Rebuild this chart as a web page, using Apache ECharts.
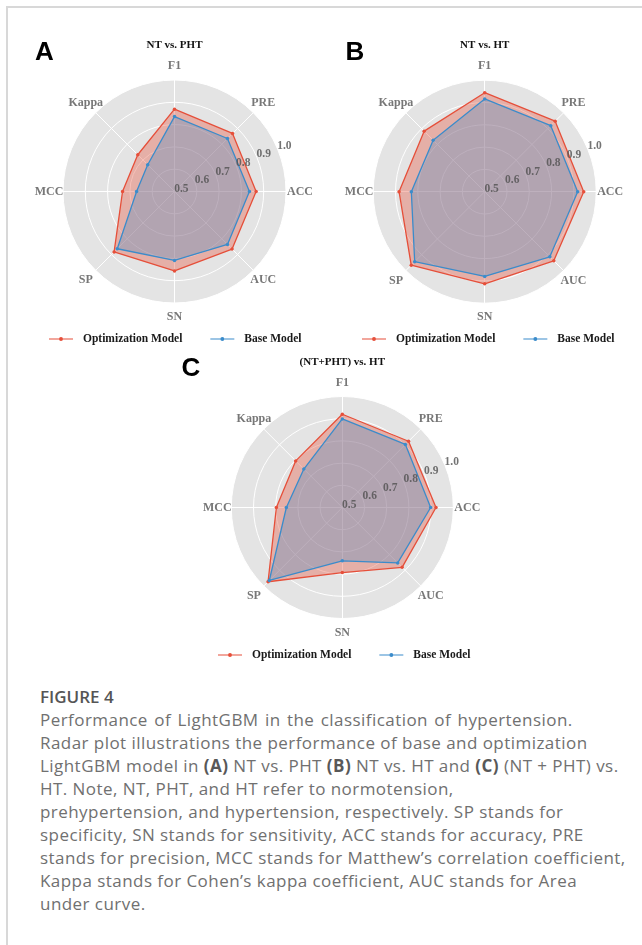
<!DOCTYPE html>
<html>
<head>
<meta charset="utf-8">
<script src="https://cdn.jsdelivr.net/npm/echarts@6/dist/echarts.min.js"></script>
<style>
  html, body { margin: 0; padding: 0; background: #fff; }
  #page { position: relative; width: 642px; height: 945px; overflow: hidden; }
  #frame { position: absolute; left: 6px; top: 6px; right: -4px; bottom: -4px;
           border-top: 2px solid #d8d8d8; border-left: 2px solid #d8d8d8; }
  #chart { position: absolute; left: 0; top: 0; width: 642px; height: 680px; }
  #caption { position: absolute; left: 40px; top: 686px; font-family: "Open Sans", sans-serif;
             color: #707070; white-space: nowrap; }
  #caption .head { font-size: 17px; font-weight: 600; color: #555; line-height: 22px; height: 22px; }
  #caption .line { font-size: 17px; letter-spacing: 0.45px; line-height: 23px; height: 23px; }
  #caption .wide { word-spacing: 1.5px; }
  #caption b { font-weight: 700; color: #585858; }
</style>
</head>
<body>
<div id="page">
  <div id="frame"></div>
  <div id="chart"></div>
  <div id="caption">
    <div class="head">FIGURE 4</div>
    <div class="line wide">Performance of LightGBM in the classification of hypertension.</div>
    <div class="line">Radar plot illustrations the performance of base and optimization</div>
    <div class="line">LightGBM model in <b>(A)</b> NT vs. PHT <b>(B)</b> NT vs. HT and <b>(C)</b> (NT + PHT) vs.</div>
    <div class="line">HT. Note, NT, PHT, and HT refer to normotension,</div>
    <div class="line">prehypertension, and hypertension, respectively. SP stands for</div>
    <div class="line">specificity, SN stands for sensitivity, ACC stands for accuracy, PRE</div>
    <div class="line">stands for precision, MCC stands for Matthew’s correlation coefficient,</div>
    <div class="line">Kappa stands for Cohen’s kappa coefficient, AUC stands for Area</div>
    <div class="line">under curve.</div>
  </div>
</div>
<script>
// Metrics, listed clockwise from the top of each radar
const categories = ['F1', 'PRE', 'ACC', 'AUC', 'SN', 'SP', 'MCC', 'Kappa'];
const seriesNames = ['Optimization Model', 'Base Model'];
const radialTicks = [0.5, 0.6, 0.7, 0.8, 0.9, 1.0];

// (A) NT vs. PHT
const optA  = [0.869, 0.868, 0.866, 0.865, 0.856, 0.883, 0.733, 0.733];
const baseA = [0.836, 0.836, 0.836, 0.836, 0.809, 0.863, 0.670, 0.670];
// (B) NT vs. HT
const optB  = [0.944, 0.947, 0.944, 0.938, 0.913, 0.966, 0.884, 0.884];
const baseB = [0.916, 0.919, 0.917, 0.913, 0.880, 0.944, 0.829, 0.827];
// (C) (NT+PHT) vs. HT
const optC  = [0.920, 0.922, 0.922, 0.881, 0.793, 0.973, 0.797, 0.797];
const baseC = [0.899, 0.902, 0.898, 0.853, 0.740, 0.965, 0.752, 0.745];

const panelTitles  = ['NT vs. PHT', 'NT vs. HT', '(NT+PHT) vs. HT'];
const panelLetters = ['A', 'B', 'C'];

const RED = '#e64f3a';
const BLUE = '#3b8ccb';
const SERIF = '"Liberation Serif", "Times New Roman", serif';

// layout of the three panels
const panels = [
  { center: [174.5, 191.5], radius: 111.5, opt: optA, base: baseA, titleY: 45, letter: [44.5, 53], legend: [49, 333] },
  { center: [484.7, 191.7], radius: 111.5, opt: optB, base: baseB, titleY: 45, letter: [355, 53], legend: [362, 333] },
  { center: [342.3, 507.5], radius: 111, opt: optC, base: baseC, titleY: 362, letter: [191, 369], legend: [218, 649] }
];

// ECharts radar runs counter-clockwise, so feed the metrics in reverse (F1 stays on top)
const ccwOrder = [0, 7, 6, 5, 4, 3, 2, 1];
const reorder = arr => ccwOrder.map(i => arr[i]);

// compass angle of each metric's spoke (degrees, counter-clockwise from east)
const spokeAngle = i => 90 - i * 360 / categories.length;
const NAME_GAP = 14;

const legendIcon = 'path://M0,1.4L24,1.4L24,2.6L0,2.6Z M10,2A2,2 0 1,1 14,2A2,2 0 1,1 10,2Z';

const radar = [], polar = [], angleAxis = [], radiusAxis = [], series = [], legend = [], graphics = [];

panels.forEach((p, k) => {
  radar.push({
    center: p.center,
    radius: p.radius,
    shape: 'circle',
    splitNumber: 5,
    startAngle: 90,
    indicator: reorder(categories).map(name => ({ name: name, min: 0.5, max: 1.0 })),
    axisName: { show: false },
    splitArea: { show: true, areaStyle: { color: ['#e4e4e4'] } },
    splitLine: { lineStyle: { color: '#ffffff', width: 1 } },
    axisLine: { lineStyle: { color: '#ffffff', width: 1 } },
    axisTick: { show: false },
    axisLabel: { show: false }
  });

  // a polar frame sharing the radar's scale, used to place the metric names and radial tick labels
  polar.push({ center: p.center, radius: p.radius });
  angleAxis.push({
    polarIndex: k, type: 'value', min: 0, max: 360, startAngle: 0, clockwise: false,
    axisLine: { show: false }, axisTick: { show: false }, axisLabel: { show: false }, splitLine: { show: false }
  });
  radiusAxis.push({
    polarIndex: k, type: 'value', min: radialTicks[0], max: radialTicks[radialTicks.length - 1],
    axisLine: { show: false }, axisTick: { show: false }, axisLabel: { show: false }, splitLine: { show: false }
  });

  series.push({
    type: 'radar',
    radarIndex: k,
    symbol: 'circle',
    symbolSize: 3.5,
    z: 2,
    data: [
      {
        name: seriesNames[0],
        value: reorder(p.opt),
        itemStyle: { color: RED },
        lineStyle: { color: RED, width: 1.3 },
        areaStyle: { color: RED, opacity: 0.36 }
      },
      {
        name: seriesNames[1],
        value: reorder(p.base),
        itemStyle: { color: BLUE },
        lineStyle: { color: BLUE, width: 1.3 },
        areaStyle: { color: BLUE, opacity: 0.3 }
      }
    ]
  });

  // radial tick labels along the 22.5° ray
  series.push({
    type: 'scatter',
    coordinateSystem: 'polar',
    polarIndex: k,
    symbolSize: 0,
    silent: true,
    z: 10,
    data: radialTicks.map(t => [t, 22.5]),
    label: {
      show: true,
      position: 'inside',
      offset: [6.9, -2.9],
      formatter: d => d.value[0].toFixed(1),
      color: '#505050',
      fontFamily: SERIF,
      fontWeight: 'bold',
      fontSize: 11.5
    }
  });

  // metric names centred just outside the rim
  series.push({
    type: 'scatter',
    coordinateSystem: 'polar',
    polarIndex: k,
    symbolSize: 0,
    silent: true,
    z: 10,
    data: categories.map((name, i) => {
      const a = spokeAngle(i) * Math.PI / 180;
      return {
        name: name,
        value: [radialTicks[radialTicks.length - 1], spokeAngle(i)],
        label: { offset: [NAME_GAP * Math.cos(a), -NAME_GAP * Math.sin(a)] }
      };
    }),
    label: {
      show: true,
      position: 'inside',
      formatter: d => d.name,
      color: '#555',
      fontFamily: SERIF,
      fontWeight: 'bold',
      fontSize: 12
    }
  });

  legend.push({
    data: seriesNames,
    left: p.legend[0],
    top: p.legend[1],
    padding: 0,
    orient: 'horizontal',
    icon: legendIcon,
    itemWidth: 24,
    itemHeight: 4,
    itemGap: 28,
    selectedMode: false,
    textStyle: { color: '#1a1a1a', fontFamily: SERIF, fontWeight: 'bold', fontSize: 11.5, padding: [0, 0, 0, 5] }
  });

  graphics.push({
    type: 'text', x: p.center[0], y: p.titleY,
    style: { text: panelTitles[k], fill: '#111', font: 'bold 11px ' + SERIF, textAlign: 'center', textVerticalAlign: 'middle' }
  });
  graphics.push({
    type: 'text', x: p.letter[0], y: p.letter[1],
    style: { text: panelLetters[k], fill: '#000', font: 'bold 26px "Liberation Sans", Arial, sans-serif', textAlign: 'center', textVerticalAlign: 'middle' }
  });
});

const chart = echarts.init(document.getElementById('chart'), null, { renderer: 'canvas' });
chart.setOption({
  animation: false,
  backgroundColor: 'transparent',
  radar: radar,
  polar: polar,
  angleAxis: angleAxis,
  radiusAxis: radiusAxis,
  legend: legend,
  series: series,
  graphic: graphics
});
</script>
</body>
</html>
